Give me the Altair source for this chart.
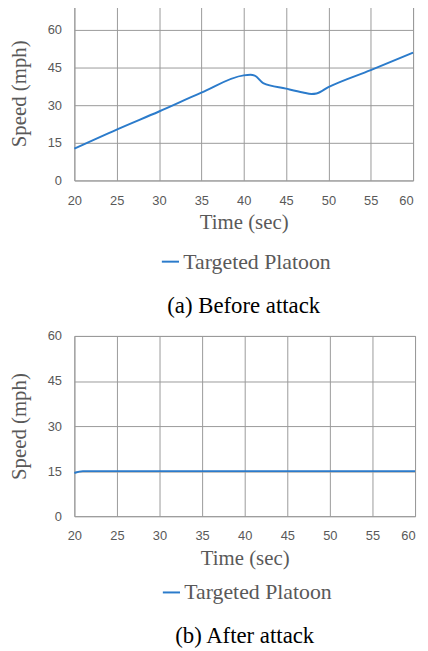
import altair as alt
import pandas as pd

time_a = [20, 25, 30, 35, 40, 40.8, 41.3, 42.3, 45, 47, 48, 48.6, 50, 55, 60]
speed_a = [12.7, 20.3, 27.5, 35.0, 41.9, 42.1, 41.8, 38.8, 36.6, 35.1, 34.5, 34.7, 37.2, 44.0, 51.0]

time_b = [20, 21, 25, 30, 35, 40, 45, 50, 55, 60]
speed_b = [14.4, 15.0, 15.0, 15.0, 15.0, 15.0, 15.0, 15.0, 15.0, 15.0]

series_name = "Targeted Platoon"
x_ticks = [20, 25, 30, 35, 40, 45, 50, 55, 60]
y_ticks = [0, 15, 30, 45, 60]

BLUE = "#2B7BCB"
GRAY_TXT = "#595959"
GRID = "#9a9a9a"
SERIF = "Liberation Serif"
SANS = "Liberation Sans"

df_a = pd.DataFrame({"t": time_a, "v": speed_a, "s": series_name})
df_b = pd.DataFrame({"t": time_b, "v": speed_b, "s": series_name})


def panel(df, caption, ymax, w, h, legend_x, legend_y, cap_offset):
    x = alt.X("t:Q", scale=alt.Scale(domain=[20, 60], nice=False, zero=False),
              axis=alt.Axis(values=x_ticks, title="Time (sec)", grid=True, gridColor=GRID,
                            domain=False, ticks=False, labelPadding=14, labelFlush=False,
                            labelAlign=alt.expr("datum.value == 60 ? 'right' : 'center'"),
                            labelFont=SANS, labelFontSize=13, labelColor=GRAY_TXT,
                            titleFont=SERIF, titleFontSize=21, titleFontWeight="normal",
                            titleColor=GRAY_TXT, titlePadding=5))
    y = alt.Y("v:Q", scale=alt.Scale(domain=[0, ymax], nice=False),
              axis=alt.Axis(values=y_ticks, title="Speed (mph)", grid=True, gridColor=GRID,
                            domain=False, ticks=False, labelPadding=13,
                            labelFont=SANS, labelFontSize=13, labelColor=GRAY_TXT,
                            titleFont=SERIF, titleFontSize=21, titleFontWeight="normal",
                            titleColor=GRAY_TXT, titlePadding=18))
    color = alt.Color("s:N", scale=alt.Scale(range=[BLUE]),
                      legend=alt.Legend(title=None, orient="none", legendX=legend_x,
                                        legendY=legend_y, symbolType="stroke",
                                        symbolSize=300, symbolStrokeWidth=2,
                                        labelFont=SERIF, labelFontSize=22, labelColor=GRAY_TXT,
                                        labelOffset=2, labelLimit=300))
    return alt.Chart(df).mark_line(interpolate="monotone", strokeWidth=2).encode(
        x=x, y=y, color=color
    ).properties(
        width=w, height=h,
        title=alt.Title(caption, orient="bottom", font=SERIF, fontSize=23,
                        fontWeight="normal", color="black", offset=cap_offset, anchor="middle")
    )


top = panel(df_a, "(a) Before attack", 69.5, 342, 176, 86, 176 + 71, 23)
bottom = panel(df_b, "(b) After attack", 60, 344, 182, 87, 182 + 66, 22)

chart = alt.vconcat(top, bottom, spacing=10).resolve_scale(color="independent").properties(
    padding={"left": 0, "top": -6, "right": 0, "bottom": 0}
).configure_view(stroke=GRID, strokeWidth=1).configure_axis(gridWidth=1)

chart.save("out.html", embed_options={"renderer": "svg", "actions": False})
